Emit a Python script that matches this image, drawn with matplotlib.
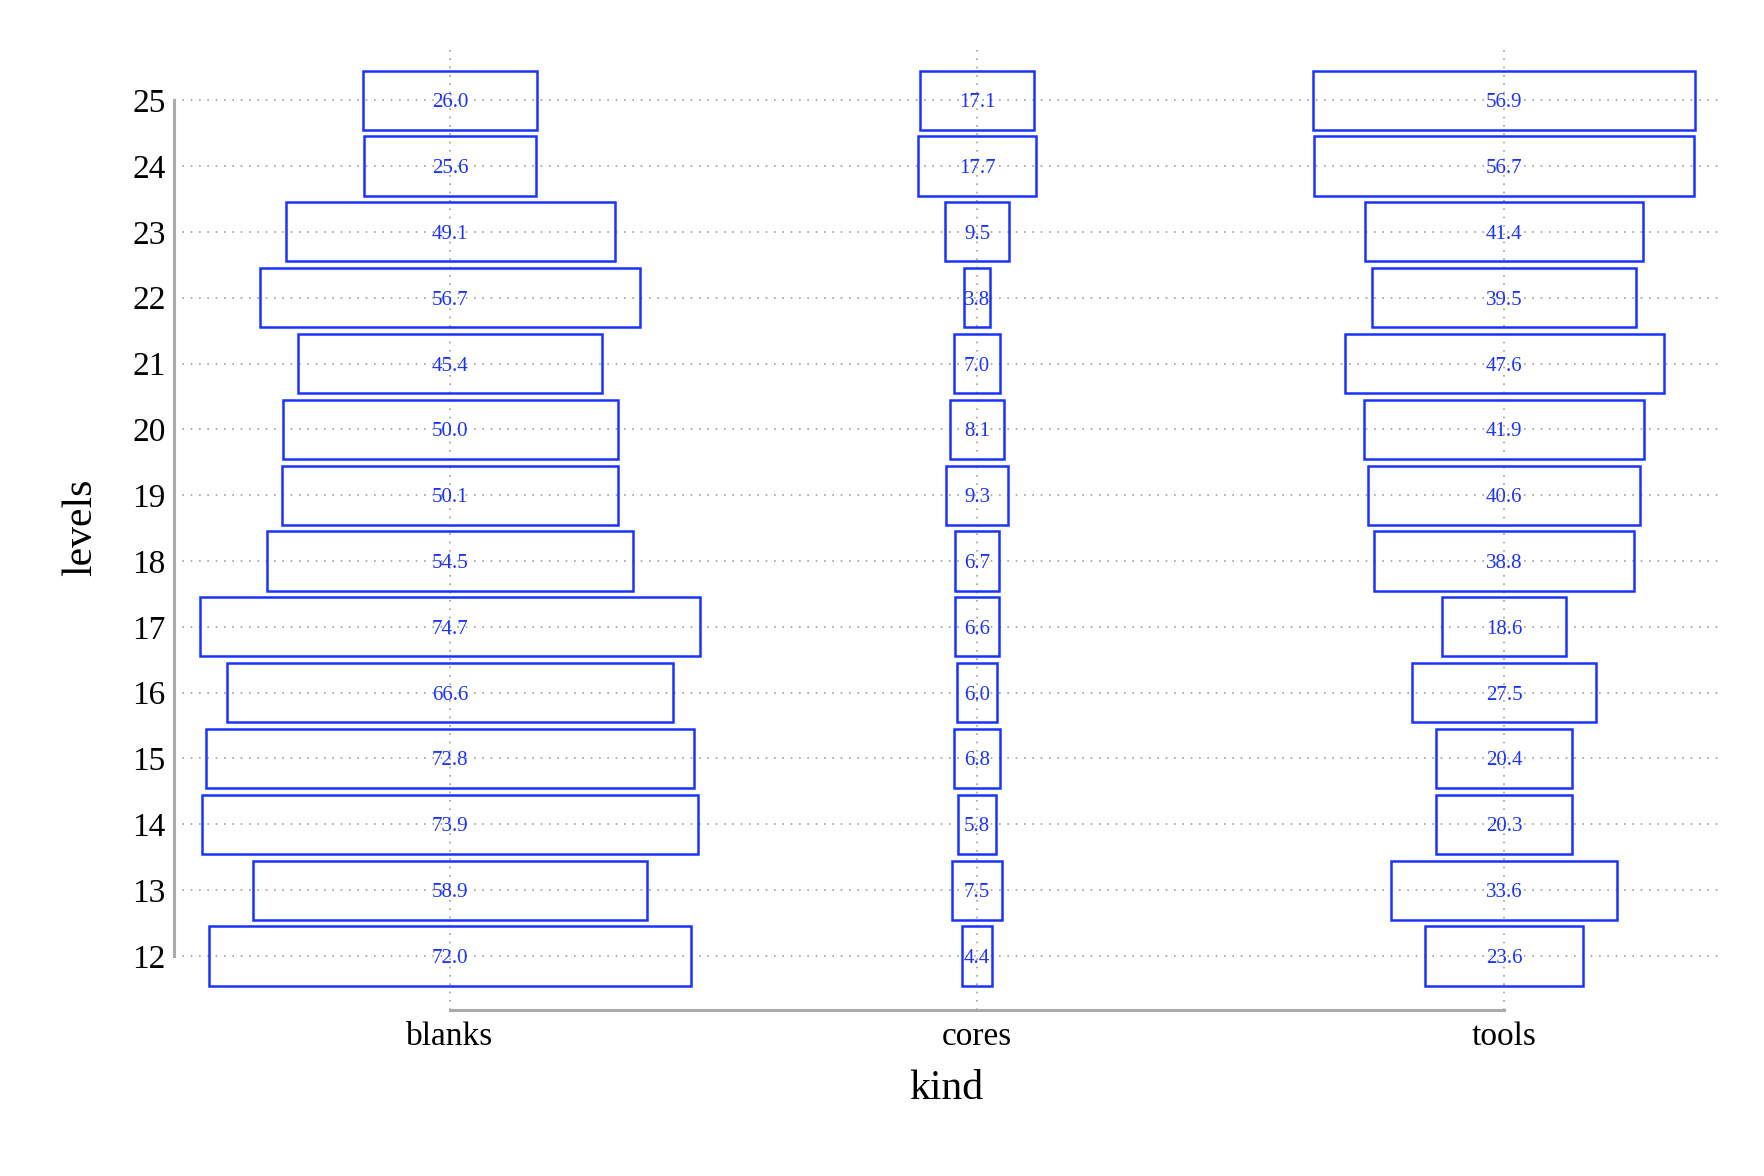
import matplotlib
matplotlib.use("Agg")
import matplotlib.pyplot as plt

plt.rcParams["font.family"] = ["Liberation Serif", "DejaVu Serif"]

kinds = ["blanks", "cores", "tools"]
levels = [12, 13, 14, 15, 16, 17, 18, 19, 20, 21, 22, 23, 24, 25]

blanks = [72.0, 58.9, 73.9, 72.8, 66.6, 74.7, 54.5, 50.1, 50.0, 45.4, 56.7, 49.1, 25.6, 26.0]
cores = [4.4, 7.5, 5.8, 6.8, 6.0, 6.6, 6.7, 9.3, 8.1, 7.0, 3.8, 9.5, 17.7, 17.1]
tools = [23.6, 33.6, 20.3, 20.4, 27.5, 18.6, 38.8, 40.6, 41.9, 47.6, 39.5, 41.4, 56.7, 56.9]

series = [blanks, cores, tools]
blue = "#1a33ff"
grid_c = "#a0a0a0"
spine_c = "#aaaaaa"

fig = plt.figure(figsize=(8.82, 5.88), dpi=200)
ax = fig.add_axes([0.0986, 0.1412, 0.8759, 0.8206])

scale = 0.95 / max(max(s) for s in series)
box_h = 0.9

for i, vals in enumerate(series):
    ax.axvline(i, color=grid_c, lw=0.6, ls=(0, (1, 4)), zorder=0)
for lv in levels:
    ax.axhline(lv, color=grid_c, lw=0.6, ls=(0, (1, 4)), zorder=0)

for i, vals in enumerate(series):
    widths = [v * scale for v in vals]
    bottoms = [lv - box_h / 2 for lv in levels]
    ax.bar([i] * len(vals), [box_h] * len(vals), width=widths, bottom=bottoms,
           fill=False, edgecolor=blue, linewidth=0.9, zorder=2)
    for lv, v in zip(levels, vals):
        ax.text(i, lv, f"{v:.1f}", color=blue, fontsize=7.5,
                ha="center", va="center_baseline", zorder=3)

ax.set_xlim(-0.524, 2.408)
ax.set_ylim(11.18, 25.84)

ax.set_xticks(range(len(kinds)))
ax.set_xticklabels(kinds)
ax.set_yticks(levels)
ax.tick_params(length=0, labelsize=12)
ax.tick_params(axis="y", pad=3)
ax.tick_params(axis="x", pad=4)

for side in ["top", "right"]:
    ax.spines[side].set_visible(False)
ax.spines["left"].set_bounds(12, 25)
ax.spines["bottom"].set_bounds(0, 2)
for side in ["left", "bottom"]:
    ax.spines[side].set_color(spine_c)
    ax.spines[side].set_linewidth(1.1)

ax.set_xlabel("kind", fontsize=15)
ax.set_ylabel("levels", fontsize=15)
ax.xaxis.label.set_va("center")
ax.yaxis.label.set_va("center")
ax.xaxis.set_label_coords(0.5, -0.082)
ax.yaxis.set_label_coords(-0.060, 0.5)

fig.savefig("out.png", dpi=200)
